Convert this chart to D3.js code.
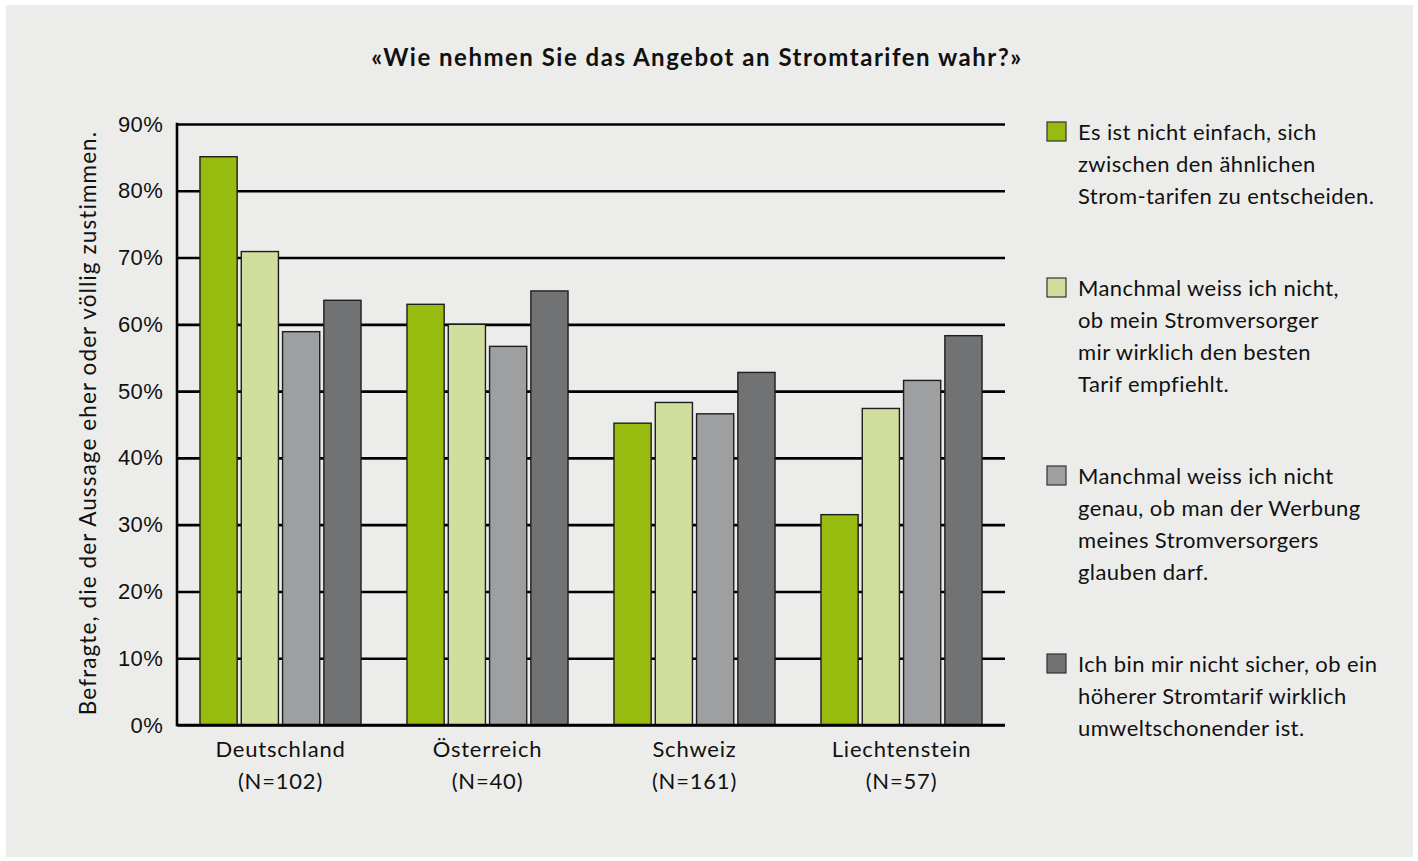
<!DOCTYPE html>
<html>
<head>
<meta charset="utf-8">
<script src="https://cdn.jsdelivr.net/npm/d3@7"></script>
<style>
  body { margin: 0; background: #fff; }
  svg { font-family: Lato, "Open Sans", sans-serif; }
</style>
</head>
<body>
<svg width="1418" height="861"></svg>
<script>
// data
const countries = ['Deutschland', 'Österreich', 'Schweiz', 'Liechtenstein'];
const sampleSizes = ['(N=102)', '(N=40)', '(N=161)', '(N=57)'];
const easyToChoose = [85.1, 63.0, 45.2, 31.5];
const bestTariff   = [70.9, 60.0, 48.3, 47.4];
const advertising  = [58.9, 56.7, 46.6, 51.6];
const greener      = [63.6, 65.0, 52.8, 58.3];
const yTicks = [0, 10, 20, 30, 40, 50, 60, 70, 80, 90];
const legendLabels = [
  ['Es ist nicht einfach, sich', 'zwischen den ähnlichen', 'Strom-tarifen zu entscheiden.'],
  ['Manchmal weiss ich nicht,', 'ob mein Stromversorger', 'mir wirklich den besten', 'Tarif empfiehlt.'],
  ['Manchmal weiss ich nicht', 'genau, ob man der Werbung', 'meines Stromversorgers', 'glauben darf.'],
  ['Ich bin mir nicht sicher, ob ein', 'höherer Stromtarif wirklich', 'umweltschonender ist.']
];
const colors = ['#98bb0f', '#d1df9e', '#9e9fa1', '#717274'];

const series = [easyToChoose, bestTariff, advertising, greener];
const rows = countries.map((c, i) => ({
  country: c,
  n: sampleSizes[i],
  values: series.map((s, k) => ({ key: k, value: s[i] }))
}));

const svg = d3.select('svg');

svg.append('rect')
  .attr('x', 6).attr('y', 5)
  .attr('width', 1407).attr('height', 852)
  .attr('fill', '#ecedeb');

const mLeft = 177, mRight = 1005, mTop = 124, mBottom = 725;

const x0 = d3.scaleBand()
  .domain(countries)
  .range([mLeft, mRight])
  .paddingInner(0.222)
  .paddingOuter(0.111);

const x1 = d3.scaleBand()
  .domain(d3.range(4))
  .range([0, x0.bandwidth()])
  .paddingInner(0.1);

const y = d3.scaleLinear()
  .domain([0, 90])
  .range([mBottom, mTop]);

// grid + y labels
const yAxis = svg.append('g')
  .attr('transform', `translate(${mLeft},0)`)
  .call(d3.axisLeft(y)
    .tickValues(yTicks)
    .tickSize(-(mRight - mLeft))
    .tickPadding(14)
    .tickFormat(d => d + '%'));
yAxis.select('.domain').remove();
yAxis.selectAll('.tick line')
  .attr('stroke', '#000')
  .attr('stroke-width', 2.6);
yAxis.selectAll('.tick text')
  .attr('fill', '#111')
  .style('font-size', '22px')
  .style('letter-spacing', '0.3px');

// bars
svg.append('g')
  .selectAll('g')
  .data(rows)
  .join('g')
  .attr('transform', d => `translate(${x0(d.country)},0)`)
  .selectAll('rect')
  .data(d => d.values)
  .join('rect')
  .attr('x', d => x1(d.key))
  .attr('width', x1.bandwidth())
  .attr('y', d => y(d.value))
  .attr('height', d => y(0) - y(d.value))
  .attr('fill', d => colors[d.key])
  .attr('stroke', '#1e1e1e')
  .attr('stroke-width', 1.4);

// axes lines
svg.append('line')
  .attr('x1', mLeft).attr('x2', mLeft)
  .attr('y1', mTop - 1.3).attr('y2', mBottom + 1.3)
  .attr('stroke', '#000').attr('stroke-width', 2.6);
svg.append('line')
  .attr('x1', mLeft).attr('x2', mRight)
  .attr('y1', mBottom).attr('y2', mBottom)
  .attr('stroke', '#000').attr('stroke-width', 2.6);

// x labels
const xl = svg.append('g')
  .selectAll('text')
  .data(rows)
  .join('text')
  .attr('y', 757)
  .attr('text-anchor', 'middle')
  .style('font-size', '22px')
  .style('letter-spacing', '0.8px')
  .attr('fill', '#111');
xl.append('tspan').attr('x', d => x0(d.country) + x0.bandwidth() / 2).text(d => d.country);
xl.append('tspan').attr('x', d => x0(d.country) + x0.bandwidth() / 2).attr('dy', 32).text(d => d.n);

// y title
svg.append('text')
  .attr('transform', 'translate(96,423) rotate(-90)')
  .attr('text-anchor', 'middle')
  .style('font-size', '22.5px')
  .style('letter-spacing', '1.1px')
  .attr('fill', '#111')
  .text('Befragte, die der Aussage eher oder völlig zustimmen.');

// title
svg.append('text')
  .attr('x', 697).attr('y', 66)
  .attr('text-anchor', 'middle')
  .style('font-size', '24px')
  .style('font-weight', 'bold')
  .style('letter-spacing', '1.5px')
  .attr('fill', '#111')
  .text('«Wie nehmen Sie das Angebot an Stromtarifen wahr?»');

// legend
const lineH = 32;
let ly = 132;
legendLabels.forEach((lines, i) => {
  const g = svg.append('g');
  g.append('rect')
    .attr('x', 1047).attr('y', ly - 10)
    .attr('width', 19).attr('height', 19)
    .attr('fill', colors[i])
    .attr('stroke', '#333').attr('stroke-width', 1.2);
  g.append('text')
    .attr('y', ly + 8)
    .style('font-size', '22px')
    .style('letter-spacing', '0.4px')
    .attr('fill', '#111')
    .selectAll('tspan')
    .data(lines)
    .join('tspan')
    .attr('x', 1078)
    .attr('dy', (d, j) => j ? lineH : 0)
    .text(d => d);
  ly += (lines.length - 1) * lineH + 92;
});
</script>
</body>
</html>
